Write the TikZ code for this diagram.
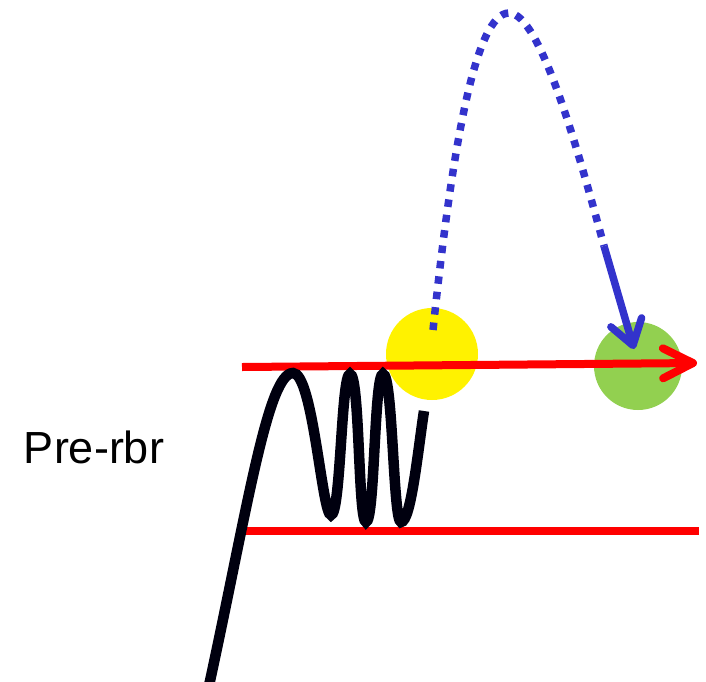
\documentclass[tikz,border=0pt]{standalone}
\usepackage{fontspec}
\setmainfont{Liberation Sans}
\usetikzlibrary{arrows.meta}
\definecolor{ballgreen}{HTML}{92D050}
\definecolor{hopblue}{HTML}{3333CC}
\definecolor{wiggle}{HTML}{00000F}
\tikzset{
    ball/.style   = {circle, draw=none, inner sep=0pt},
    level/.style  = {line width=8pt, draw=red, line cap=butt},
    hop/.style    = {line width=7.5pt, draw=hopblue, dash pattern=on 7.5pt off 8pt},
    signal/.style = {line width=10.5pt, draw=wiggle, line cap=butt}
}
\begin{document}
\begin{tikzpicture}[
        x=1pt, y=-1pt,
        every node/.style={font=\fontsize{45}{52}\selectfont}
    ]
    \useasboundingbox (0,0) rectangle (706,681);

    % --- Balls ---
    \node[ball, fill=yellow, minimum size=92pt] (yellow_ball) at (432,354) {};
    \node[ball, fill=ballgreen, minimum size=88pt] (green_ball) at (638,366) {};

    % --- Label ---
    \node[anchor=base, inner sep=0pt] (pre_rbr) at (94,463) {Pre-rbr};

    % --- Levels ---
    \coordinate (top_l) at (242,367);
    \coordinate (top_r) at (697,363);
    \coordinate (bot_l) at (242,531);
    \coordinate (bot_r) at (699,531);
    \draw[level, -{Straight Barb[length=30pt, width=30pt, round]}] (top_l) -- (top_r);
    \draw[level] (bot_l) -- (bot_r);

    % --- Oscillating signal ---
    \draw[signal] (206,698) -- (210,681) .. controls (248,505) and (268,373) .. (293,373)
        .. controls (313,373) and (322,515) .. (331,515)
        .. controls (341,515) and (341,374) .. (350,374)
        .. controls (360,374) and (358,522) .. (366,522)
        .. controls (375,522) and (374,374) .. (383,374)
        .. controls (393,374) and (393,522) .. (401,522)
        .. controls (411,522) and (418,450) .. (424,411);

    % --- Hop ---
    \coordinate (hop_start) at (433,330);
    \coordinate (hop_top) at (509,13);
    \coordinate (hop_bend) at (604,246);
    \coordinate (hop_tip) at (634,349);
    \draw[hop] (hop_start) .. controls (452,150) and (475,13) .. (hop_top)
        .. controls (540,13) and (578,150) .. (hop_bend);
    \draw[line width=7.5pt, draw=hopblue, line cap=butt, -{Straight Barb[length=24pt, width=32pt, round]}] (hop_bend) -- (hop_tip);
\end{tikzpicture}
\end{document}
